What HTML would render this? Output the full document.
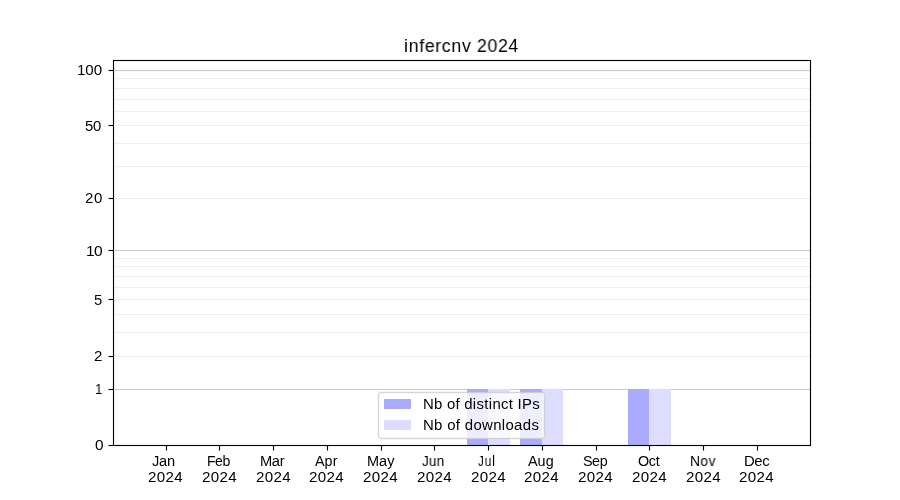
<!DOCTYPE html>
<html lang="en">
<head>
<meta charset="utf-8">
<title>infercnv 2024</title>
<style>
html,body{margin:0;padding:0;background:#fff}
body{width:900px;height:500px;position:relative;overflow:hidden;font-family:"Liberation Sans",sans-serif;color:#000}
#fig{position:absolute;left:0;top:0;width:900px;height:500px;background:#fff;overflow:hidden}
#fig div,#fig span{position:absolute}
.ge,.gc{left:114px;width:696px;height:1px}
.ge{background:#eee;box-shadow:0 1px 0 rgba(238,238,238,.06),0 -1px 0 rgba(238,238,238,.06)}
.gc{background:#ccc;box-shadow:0 1px 0 rgba(204,204,204,.06),0 -1px 0 rgba(204,204,204,.06)}
.bd,.bl{top:389px;height:56px}
.bd{background:#aaf}
.bl{background:#ddf}
#frame{left:113px;top:60px;width:696px;height:384px;border:1px solid #000;box-shadow:0 0 0 1px rgba(0,0,0,.055),inset 0 0 0 1px rgba(0,0,0,.055)}
.yt{left:109px;width:4px;height:1px;background:#000;box-shadow:0 1px 0 rgba(0,0,0,.055),0 -1px 0 rgba(0,0,0,.055)}
.yt::before{content:"";position:absolute;left:-1px;top:0;width:1px;height:1px;background:#7f7f7f;box-shadow:0 1px 0 rgba(0,0,0,.0275),0 -1px 0 rgba(0,0,0,.0275)}
.xt{top:446px;width:1px;height:4px;background:#000;box-shadow:1px 0 0 rgba(0,0,0,.055),-1px 0 0 rgba(0,0,0,.055)}
.xt::after{content:"";position:absolute;left:0;top:4px;width:1px;height:1px;background:#7f7f7f;box-shadow:1px 0 0 rgba(0,0,0,.0275),-1px 0 0 rgba(0,0,0,.0275)}
.t{white-space:pre;line-height:1;transform-origin:0 0;color:#000;will-change:transform}
#legend{left:378px;top:392px;width:165px;height:45px;border:1px solid rgba(204,204,204,.8);border-radius:3.25px;background:linear-gradient(rgba(255,255,255,.6667),rgba(255,255,255,.6667)) padding-box,linear-gradient(rgba(255,255,255,.4),rgba(255,255,255,.4)) border-box;box-shadow:0 0 0 1px rgba(204,204,204,.157),inset 0 0 0 1px rgba(204,204,204,.157)}
.sw{left:384px;width:27px;height:10px}
</style>
</head>
<body>
<div id="fig">
<span class="t" style="left:403.78px;top:37.02px;font-size:18.06px;letter-spacing:0.69px;word-spacing:-0.23px;transform:scaleX(0.9821)">infercnv 2024</span>
<!-- gridlines -->
<div class="gc" style="top:70px"></div>
<div class="ge" style="top:78px"></div>
<div class="ge" style="top:88px"></div>
<div class="ge" style="top:99px"></div>
<div class="ge" style="top:111px"></div>
<div class="ge" style="top:125px"></div>
<div class="ge" style="top:143px"></div>
<div class="ge" style="top:166px"></div>
<div class="ge" style="top:198px"></div>
<div class="gc" style="top:250px"></div>
<div class="ge" style="top:258px"></div>
<div class="ge" style="top:266px"></div>
<div class="ge" style="top:276px"></div>
<div class="ge" style="top:287px"></div>
<div class="ge" style="top:299px"></div>
<div class="ge" style="top:314px"></div>
<div class="ge" style="top:332px"></div>
<div class="ge" style="top:356px"></div>
<div class="gc" style="top:389px"></div>
<!-- bars -->
<div class="bd" style="left:467px;width:21px"></div>
<div class="bl" style="left:488px;width:22px"></div>
<div class="bd" style="left:520px;width:22px"></div>
<div class="bl" style="left:542px;width:21px"></div>
<div class="bd" style="left:628px;width:21px"></div>
<div class="bl" style="left:649px;width:22px"></div>
<!-- axes frame and ticks -->
<div id="frame"></div>
<div class="yt" style="top:70px"></div>
<div class="yt" style="top:125px"></div>
<div class="yt" style="top:198px"></div>
<div class="yt" style="top:250px"></div>
<div class="yt" style="top:299px"></div>
<div class="yt" style="top:356px"></div>
<div class="yt" style="top:389px"></div>
<div class="yt" style="top:445px"></div>
<div class="xt" style="left:166px"></div>
<div class="xt" style="left:219px"></div>
<div class="xt" style="left:273px"></div>
<div class="xt" style="left:327px"></div>
<div class="xt" style="left:381px"></div>
<div class="xt" style="left:434px"></div>
<div class="xt" style="left:488px"></div>
<div class="xt" style="left:542px"></div>
<div class="xt" style="left:596px"></div>
<div class="xt" style="left:649px"></div>
<div class="xt" style="left:703px"></div>
<div class="xt" style="left:757px"></div>
<!-- y tick labels -->
<span class="t" style="left:76.74px;top:62.60px;font-size:14.12px;letter-spacing:-0.05px;transform:scaleX(1.0724)">100</span>
<span class="t" style="left:85.20px;top:118.50px;font-size:14.12px;letter-spacing:-0.23px;transform:scaleX(1.0520)">50</span>
<span class="t" style="left:85.00px;top:191.00px;font-size:14.12px;letter-spacing:0.55px;transform:scaleX(1.0611)">20</span>
<span class="t" style="left:86.01px;top:243.59px;font-size:14.12px;letter-spacing:-0.56px;transform:scaleX(1.0994)">10</span>
<span class="t" style="left:93.59px;top:292.91px;font-size:14.12px;transform:scaleX(1.0470)">5</span>
<span class="t" style="left:93.81px;top:349.34px;font-size:14.12px;transform:scaleX(1.0657)">2</span>
<span class="t" style="left:94.64px;top:382.13px;font-size:14.12px;transform:scaleX(0.9300)">1</span>
<span class="t" style="left:94.79px;top:437.89px;font-size:14.12px;transform:scaleX(1.0880)">0</span>
<!-- x tick labels -->
<span class="t" style="left:151.99px;top:453.85px;font-size:14.12px;letter-spacing:-0.26px;transform:scaleX(1.0359)">Jan</span>
<span class="t" style="left:147.74px;top:469.87px;font-size:14.12px;letter-spacing:0.31px;transform:scaleX(1.0718)">2024</span>
<span class="t" style="left:207.07px;top:453.85px;font-size:14.12px;letter-spacing:-0.50px;transform:scaleX(0.9957)">Feb</span>
<span class="t" style="left:201.74px;top:469.87px;font-size:14.12px;letter-spacing:0.31px;transform:scaleX(1.0718)">2024</span>
<span class="t" style="left:260.33px;top:453.85px;font-size:14.12px;letter-spacing:-0.36px;transform:scaleX(1.0402)">Mar</span>
<span class="t" style="left:255.74px;top:469.87px;font-size:14.12px;letter-spacing:0.31px;transform:scaleX(1.0718)">2024</span>
<span class="t" style="left:315.26px;top:453.85px;font-size:14.12px;letter-spacing:0.05px;transform:scaleX(1.0155)">Apr</span>
<span class="t" style="left:308.74px;top:469.87px;font-size:14.12px;letter-spacing:0.31px;transform:scaleX(1.0718)">2024</span>
<span class="t" style="left:367.17px;top:453.85px;font-size:14.12px;letter-spacing:0.05px;transform:scaleX(1.0271)">May</span>
<span class="t" style="left:362.74px;top:469.87px;font-size:14.12px;letter-spacing:0.31px;transform:scaleX(1.0718)">2024</span>
<span class="t" style="left:421.99px;top:453.85px;font-size:14.12px;letter-spacing:0.32px;transform:scaleX(0.9516)">Jun</span>
<span class="t" style="left:416.74px;top:469.87px;font-size:14.12px;letter-spacing:0.31px;transform:scaleX(1.0718)">2024</span>
<span class="t" style="left:478.21px;top:453.85px;font-size:14.12px;letter-spacing:1.06px;transform:scaleX(0.8369)">Jul</span>
<span class="t" style="left:470.74px;top:469.87px;font-size:14.12px;letter-spacing:0.31px;transform:scaleX(1.0718)">2024</span>
<span class="t" style="left:527.95px;top:453.85px;font-size:14.12px;letter-spacing:0.05px;transform:scaleX(1.0163)">Aug</span>
<span class="t" style="left:523.74px;top:469.87px;font-size:14.12px;letter-spacing:0.31px;transform:scaleX(1.0718)">2024</span>
<span class="t" style="left:582.89px;top:453.85px;font-size:14.12px;letter-spacing:-0.43px;transform:scaleX(1.0156)">Sep</span>
<span class="t" style="left:577.74px;top:469.87px;font-size:14.12px;letter-spacing:0.31px;transform:scaleX(1.0718)">2024</span>
<span class="t" style="left:637.90px;top:453.85px;font-size:14.12px;letter-spacing:-0.34px;transform:scaleX(1.0175)">Oct</span>
<span class="t" style="left:631.74px;top:469.87px;font-size:14.12px;letter-spacing:0.31px;transform:scaleX(1.0718)">2024</span>
<span class="t" style="left:690.13px;top:453.85px;font-size:14.12px;letter-spacing:0.42px;transform:scaleX(0.9785)">Nov</span>
<span class="t" style="left:685.74px;top:469.87px;font-size:14.12px;letter-spacing:0.31px;transform:scaleX(1.0718)">2024</span>
<span class="t" style="left:743.60px;top:453.85px;font-size:14.12px;letter-spacing:-0.38px;transform:scaleX(1.0560)">Dec</span>
<span class="t" style="left:738.74px;top:469.87px;font-size:14.12px;letter-spacing:0.31px;transform:scaleX(1.0718)">2024</span>
<!-- legend -->
<div id="legend"></div>
<div class="sw" style="top:399px;background:#aaf"></div>
<div class="sw" style="top:420px;background:#ddf"></div>
<span class="t" style="left:422.50px;top:396.59px;font-size:14.12px;letter-spacing:0.30px;word-spacing:-0.28px;transform:scaleX(1.0600)">Nb of distinct IPs</span>
<span class="t" style="left:422.50px;top:418.24px;font-size:14.12px;letter-spacing:0.30px;transform:scaleX(1.0600)">Nb of downloads</span>
</div>
</body>
</html>
